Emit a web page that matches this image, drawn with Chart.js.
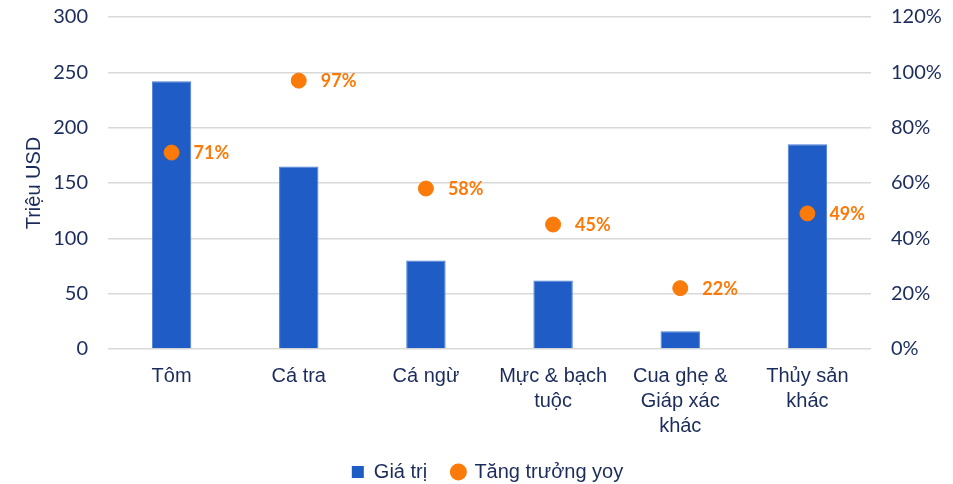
<!DOCTYPE html>
<html>
<head>
<meta charset="utf-8">
<script src="https://cdn.jsdelivr.net/npm/chart.js@4/dist/chart.umd.min.js"></script>
<style>
  html, body { margin: 0; padding: 0; background: #fff; }
  #wrap { width: 953px; height: 484px; }
</style>
</head>
<body>
<div id="wrap"><canvas id="chart" width="953" height="484"></canvas></div>
<script>
const categories = ['Tôm', 'Cá tra', 'Cá ngừ', ['Mực & bạch', 'tuộc'], ['Cua ghẹ &', 'Giáp xác', 'khác'], ['Thủy sản', 'khác']];
const giaTri = [242, 165, 80, 62, 16, 185];
const tangTruong = [71, 97, 58, 45, 22, 49];
const leftTicks = [0, 50, 100, 150, 200, 250, 300];
const rightTicks = [0, 20, 40, 60, 80, 100, 120];

const navy = '#1B2C5C';
const blue = '#1F5CC6';
const orange = '#FA7A0A';

// nhan % ben phai cac diem
const nhanPhanTram = {
  id: 'nhanPhanTram',
  afterDatasetsDraw(chart) {
    const ctx = chart.ctx;
    const meta = chart.getDatasetMeta(1);
    ctx.save();
    ctx.fillStyle = orange;
    ctx.font = 'bold 18px Lato, "Liberation Sans", sans-serif';
    ctx.textAlign = 'left';
    ctx.textBaseline = 'middle';
    meta.data.forEach((pt, i) => {
      ctx.fillText(tangTruong[i] + '%', pt.x + 22, pt.y + 1);
    });
    ctx.restore();
  }
};

new Chart(document.getElementById('chart'), {
  data: {
    labels: categories,
    datasets: [
      {
        type: 'bar',
        label: 'Giá trị',
        data: giaTri,
        backgroundColor: blue,
        borderColor: '#4A7FD8',
        borderWidth: 1,
        barPercentage: 0.31,
        categoryPercentage: 1,
        yAxisID: 'y',
        order: 2
      },
      {
        type: 'line',
        label: 'Tăng trưởng yoy',
        data: tangTruong,
        showLine: false,
        pointRadius: 7.5,
        pointHoverRadius: 7.5,
        pointBackgroundColor: orange,
        pointBorderColor: orange,
        backgroundColor: orange,
        borderColor: orange,
        yAxisID: 'y1',
        order: 1
      }
    ]
  },
  options: {
    responsive: false,
    animation: false,
    layout: { padding: { top: 0, bottom: -8, left: 22, right: 0 } },
    plugins: {
      legend: {
        position: 'bottom',
        labels: {
          usePointStyle: true,
          color: navy,
          font: { family: '"Liberation Sans", Arial, sans-serif', size: 20 },
          boxWidth: 12,
          boxHeight: 12,
          padding: 3,
          generateLabels(chart) {
            return chart.data.datasets.map((ds, i) => ({
              // khoang trong giua hai muc chu giai
              text: i === 0 ? ds.label + '    ' : ds.label,
              fillStyle: i === 0 ? blue : orange,
              strokeStyle: i === 0 ? blue : orange,
              lineWidth: 0,
              pointStyle: i === 0 ? 'rect' : 'circle',
              datasetIndex: i,
              fontColor: navy
            }));
          }
        }
      },
      tooltip: { enabled: false }
    },
    scales: {
      x: {
        grid: { display: false },
        border: { display: false },
        ticks: {
          color: navy,
          font: { family: '"Liberation Sans", Arial, sans-serif', size: 20, lineHeight: 1.25 },
          maxRotation: 0,
          autoSkip: false,
          padding: 7
        },
        afterFit(scale) { scale.height = 110; }
      },
      y: {
        position: 'left',
        min: 0,
        max: 300,
        afterBuildTicks(scale) { scale.ticks = leftTicks.map(v => ({ value: v })); },
        grid: { color: '#D9D9D9', lineWidth: 1.5, drawTicks: false },
        border: { display: false },
        ticks: {
          color: navy,
          font: { family: 'Lato, "Open Sans", sans-serif', size: 20 },
          padding: 20
        },
        title: {
          display: true,
          text: 'Triệu USD',
          color: navy,
          font: { family: '"Liberation Sans", Arial, sans-serif', size: 20 },
          padding: { top: 0, bottom: 6 }
        },
        afterFit(scale) { scale.width = 86; scale.paddingTop = 17; }
      },
      y1: {
        position: 'right',
        min: 0,
        max: 120,
        afterBuildTicks(scale) { scale.ticks = rightTicks.map(v => ({ value: v })); },
        grid: { display: false, drawTicks: false },
        border: { display: false },
        ticks: {
          color: navy,
          font: { family: 'Lato, "Open Sans", sans-serif', size: 20 },
          padding: 20,
          callback: v => v + '%'
        },
        afterFit(scale) { scale.width = 82; scale.paddingTop = 17; }
      }
    }
  },
  plugins: [nhanPhanTram]
});
</script>
</body>
</html>
